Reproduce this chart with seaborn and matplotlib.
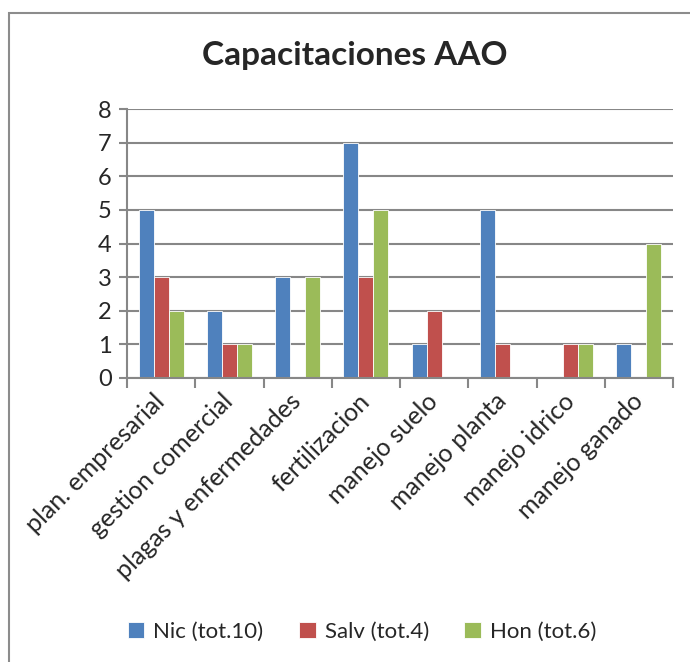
import numpy as np
import pandas as pd
import seaborn as sns
import matplotlib
matplotlib.use('Agg')
import matplotlib.pyplot as plt
from matplotlib.patches import Rectangle

# data
categories = ['plan. empresarial', 'gestion comercial', 'plagas y enfermedades',
              'fertilizacion', 'manejo suelo', 'manejo planta', 'manejo idrico',
              'manejo ganado']
series = ['Nic (tot.10)', 'Salv (tot.4)', 'Hon (tot.6)']
nic = [5, 2, 3, 7, 1, 5, 0, 1]
salv = [3, 1, 0, 3, 2, 1, 1, 0]
hon = [2, 1, 3, 5, 0, 0, 1, 4]
colors = ['#4F81BD', '#C0504D', '#9BBB59']

df = pd.DataFrame({
    'categoria': categories * 3,
    'serie': [series[0]] * 8 + [series[1]] * 8 + [series[2]] * 8,
    'valor': nic + salv + hon,
})

sns.set_style('white')
plt.rcParams['font.family'] = ['Lato', 'DejaVu Sans']

fig = plt.figure(figsize=(6.9, 6.62), dpi=100)
ax = fig.add_axes([127 / 690, 1 - 378 / 662, 546 / 690, 269 / 662])

sns.barplot(data=df, x='categoria', y='valor', hue='serie', palette=colors,
            saturation=1, width=0.66, ax=ax, edgecolor='white', linewidth=0.6,
            legend=True)

grid_c = '#878787'
ax.set_ylim(0, 8)
ax.set_xlim(-0.5, len(categories) - 0.5)
ax.set_yticks(range(0, 9))
ax.yaxis.grid(True, color=grid_c, linewidth=1.5)
ax.set_axisbelow(True)
for s in ['top', 'right']:
    ax.spines[s].set_visible(False)
for s in ['left', 'bottom']:
    ax.spines[s].set_color(grid_c)
    ax.spines[s].set_linewidth(1.5)

ax.set_xlabel('')
ax.set_ylabel('')
ax.tick_params(axis='y', labelsize=17, length=6, width=1.5, color=grid_c, left=True, pad=5)
ax.set_xticks(np.arange(-0.5, len(categories), 1), minor=True)
ax.tick_params(axis='x', which='minor', length=7, width=1.5, color=grid_c, bottom=True)
ax.tick_params(axis='x', which='major', length=0, labelsize=18, pad=14)
plt.setp(ax.get_xticklabels(), rotation=45, ha='right', va='center',
         rotation_mode='anchor')

fig.text(355 / 690, 1 - 55 / 662, 'Capacitaciones AAO', ha='center', va='center',
         fontsize=24, fontweight='bold')

handles, labels = ax.get_legend_handles_labels()
ax.get_legend().remove()
fig.legend(handles, labels, loc='center', bbox_to_anchor=(362 / 690, 1 - 632 / 662),
           ncol=3, frameon=False, fontsize=16, handlelength=0.75, handleheight=0.75,
           columnspacing=1.6, handletextpad=0.4)

# chart border like the Excel frame
fig.patches.append(Rectangle((9 / 690, -0.02), 1.1, 1 - 13 / 662 + 0.02,
                             transform=fig.transFigure, fill=False,
                             edgecolor='#8c8c8c', linewidth=1.5))

fig.savefig('out.png', dpi=100, facecolor='white')
